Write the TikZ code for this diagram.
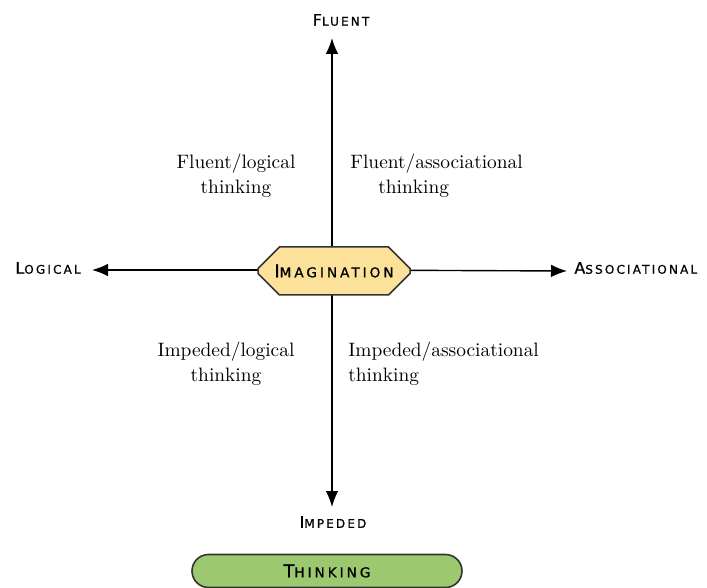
\documentclass[tikz,border=0pt]{standalone}
\usepackage{fontspec}
\usetikzlibrary{shapes.misc,arrows.meta}
\newfontfamily\capfont[LetterSpace=18,FakeBold=0.7]{DejaVu Sans}
\newfontfamily\boxfont[LetterSpace=22,FakeBold=0.9]{DejaVu Sans}
% fake small capitals: a larger first letter, the rest as smaller capitals
\newcommand\capword[2]{{\capfont\fontsize{8}{8}\selectfont #1\fontsize{6}{6}\selectfont #2}}
\newcommand\boxword[2]{{\boxfont\fontsize{8.8}{9}\selectfont #1\fontsize{6.8}{7}\selectfont #2}}
\definecolor{octfill}{HTML}{FCE19A}
\definecolor{pillfill}{HTML}{9CC86F}
\definecolor{edge}{HTML}{333333}
\begin{document}
\begin{tikzpicture}[x=0.5pt,y=-0.5pt,
  axis/.style={line width=0.7pt,-{Latex[length=8pt,width=6.3pt]}},
  caplabel/.style={inner sep=1pt},
  quad/.style={font=\fontsize{9.7}{12.5}\selectfont,inner sep=0pt},
  octa/.style={chamfered rectangle,chamfered rectangle xsep=8pt,chamfered rectangle ysep=7.5pt,
    draw=edge,line width=0.75pt,fill=octfill,minimum width=76pt,minimum height=24pt,inner sep=0pt},
  pill/.style={rounded rectangle,draw=edge,line width=0.8pt,fill=pillfill,
    minimum width=135pt,minimum height=16.5pt,inner sep=0pt}]
\useasboundingbox (0,0) rectangle (707,588);

% axis ends
\coordinate (c) at (332,270);
\coordinate (ftip) at (332,38);
\coordinate (itip) at (332,507);
\coordinate (ltip) at (92,270);
\coordinate (atip) at (567,271);

% axis labels
\node[caplabel] (fluent) at (341,20) {\capword{F}{LUENT}};
\node[caplabel] (impeded) at (333,522) {\capword{I}{MPEDED}};
\node[caplabel,anchor=west] (logical) at (13,268) {\capword{L}{OGICAL}};
\node[caplabel,anchor=west] (assoc) at (572,268) {\capword{A}{SSOCIATIONAL}};

% axes
\draw[axis] (c) -- (ftip);
\draw[axis] (c) -- (itip);
\draw[axis] (c) -- (ltip);
\draw[axis] (c) -- (atip);

% centre node
\node[octa] (imag) at (334,271) {\boxword{I}{MAGINATION}};

% quadrant texts
\node[quad,align=center] (fl) at (236,176) {Fluent/logical\\thinking};
\node[quad,align=left,anchor=west] (fa) at (350,176) {Fluent/associational\\\hspace*{14pt}thinking};
\node[quad,align=center] (il) at (226,364) {Impeded/logical\\thinking};
\node[quad,align=left,anchor=west] (ia) at (348,364) {Impeded/associational\\thinking};

% bottom title
\node[pill] (think) at (327,571) {\boxword{T}{HINKING}};
\end{tikzpicture}
\end{document}
